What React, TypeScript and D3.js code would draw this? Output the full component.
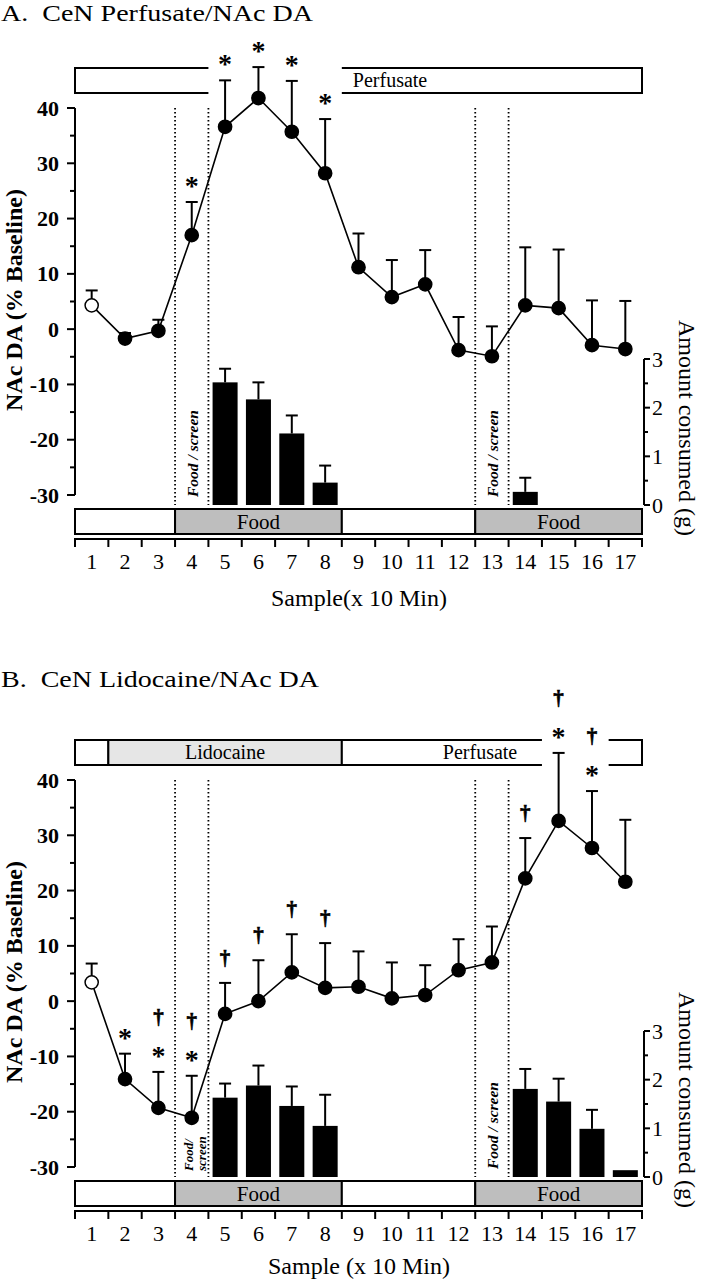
import React from "react";
import * as d3 from "d3";

// ---------------- DATA ----------------
const samples = [1, 2, 3, 4, 5, 6, 7, 8, 9, 10, 11, 12, 13, 14, 15, 16, 17];
const xTickLabels = ["1", "2", "3", "4", "5", "6", "7", "8", "9", "10", "11", "12", "13", "14", "15", "16", "17"];
const yTicks = [-30, -20, -10, 0, 10, 20, 30, 40];
const yrTicks = [0, 1, 2, 3];

// Panel A: CeN Perfusate / NAc DA (% baseline), mean and SEM
const daA = [4.3, -1.7, -0.3, 17.0, 36.6, 41.8, 35.7, 28.2, 11.2, 5.8, 8.1, -3.8, -4.9, 4.3, 3.8, -2.9, -3.6];
const semA = [2.7, 1.0, 2.0, 6.0, 8.4, 5.6, 9.2, 9.8, 6.1, 6.7, 6.2, 6.0, 5.4, 10.5, 10.6, 8.1, 8.7];
const sigA = ["", "", "", "*", "*", "*", "*", "*", "", "", "", "", "", "", "", "", ""];
const foodSamplesA = [5, 6, 7, 8, 14];
const foodA = [2.52, 2.17, 1.47, 0.46, 0.27];
const foodSemA = [0.28, 0.35, 0.37, 0.35, 0.29];

// Panel B: CeN Lidocaine / NAc DA
const daB = [3.4, -14.1, -19.3, -21.1, -2.3, 0.0, 5.2, 2.4, 2.6, 0.5, 1.1, 5.6, 7.0, 22.2, 32.6, 27.7, 21.6];
const semB = [3.4, 4.6, 6.5, 7.6, 5.6, 7.4, 6.9, 8.1, 6.4, 6.5, 5.4, 5.6, 6.5, 7.3, 12.3, 10.3, 11.2];
const sigB = ["", "*", "†*", "†*", "†", "†", "†", "†", "", "", "", "", "", "†", "†*", "†*", ""];
const foodSamplesB = [5, 6, 7, 8, 14, 15, 16, 17];
const foodB = [1.63, 1.88, 1.46, 1.05, 1.81, 1.55, 0.99, 0.14];
const foodSemB = [0.29, 0.41, 0.40, 0.64, 0.41, 0.47, 0.39, 0];

// Condition bars
const foodRow = [
  { from: 0.5, to: 3.5, label: "" },
  { from: 3.5, to: 8.5, label: "Food" },
  { from: 8.5, to: 12.5, label: "" },
  { from: 12.5, to: 17.5, label: "Food" },
];
const topSegsA = [
  { from: 0.5, to: 4.5, label: "", fill: "#ffffff", left: true, right: false },
  { from: 8.5, to: 17.5, label: "Perfusate", fill: "#ffffff", left: false, right: true },
];
const topSegsB = [
  { from: 0.5, to: 1.5, label: "", fill: "#ffffff", left: true, right: true },
  { from: 1.5, to: 8.5, label: "Lidocaine", fill: "#e6e6e6", left: true, right: true },
  { from: 8.5, to: 14.5, label: "Perfusate", fill: "#ffffff", left: true, right: false },
  { from: 16.5, to: 17.5, label: "", fill: "#ffffff", left: false, right: true },
];
const dividers = [3.5, 4.5, 12.5, 13.5];

// ---------------- DRAWING ----------------
const W = 702;
const H = 1280;
const X0 = 75;
const X1 = 642;
const FONT = "'Liberation Serif', 'Times New Roman', Times, serif";

type Seg = { from: number; to: number; label: string; fill: string; left: boolean; right: boolean };

function Panel(props: {
  dy: number;
  title: string;
  titleY: number;
  titleLen: number;
  da: number[];
  sem: number[];
  sig: string[];
  foodSamples: number[];
  food: number[];
  foodSem: number[];
  topSegs: Seg[];
  topLabelX: (seg: Seg, xs: (v: number) => number) => { x: number; anchor: string };
  splitFoodScreen4: boolean;
  xLabel: string;
  xLabelY: number;
}) {
  const { dy, da, sem, sig } = props;
  const xs = d3.scaleLinear().domain([0.5, 17.5]).range([X0, X1]);
  const xb = d3
    .scaleBand<number>()
    .domain(samples)
    .range([X0, X1])
    .paddingInner(0.25)
    .paddingOuter(0.125);
  const y = d3.scaleLinear().domain([-30, 40]).range([495 + dy, 108 + dy]);
  const yr = d3.scaleLinear().domain([0, 3]).range([505 + dy, 359 + dy]);
  const line = d3
    .line<number>()
    .x((_, i) => xs(samples[i]))
    .y((d) => y(d));

  const topY0 = 68 + dy;
  const topY1 = 93 + dy;
  const fY0 = 509 + dy;
  const fY1 = 534 + dy;
  const axY = 539 + dy;
  const cap = 6;

  const minorY = y.ticks(14);
  const minorYr = d3.range(0, 3.01, 0.5);

  const fsLabel = (s: number, split: boolean) => {
    const xc = xs(s);
    const yb = 497 + dy;
    if (split) {
      return (
        <g key={"fs" + s} fontFamily={FONT} fontStyle="italic" fontWeight="bold" fontSize={13}>
          <text transform={`translate(${xc + 1},${yb + 2}) rotate(-90)`}>Food/</text>
          <text transform={`translate(${xc + 14},${yb + 2}) rotate(-90)`}>screen</text>
        </g>
      );
    }
    return (
      <text
        key={"fs" + s}
        transform={`translate(${xc + 6},${yb}) rotate(-90)`}
        fontFamily={FONT}
        fontStyle="italic"
        fontWeight="bold"
        fontSize={15.5}
        style={{ whiteSpace: "pre" }}
      >
        Food / screen
      </text>
    );
  };

  return (
    <g>
      {/* title */}
      <text
        x={1}
        y={props.titleY}
        fontFamily={FONT}
        fontSize={24}
        textLength={props.titleLen}
        lengthAdjust="spacingAndGlyphs"
        style={{ whiteSpace: "pre" }}
      >
        {props.title}
      </text>

      {/* top condition bar */}
      {props.topSegs.map((s, i) => {
        const a = xs(s.from);
        const b = xs(s.to);
        const lp = props.topLabelX(s, xs);
        return (
          <g key={"top" + i}>
            <rect x={a} y={topY0} width={b - a} height={topY1 - topY0} fill={s.fill} />
            <line x1={a} x2={b} y1={topY0} y2={topY0} stroke="#000" strokeWidth={2} />
            <line x1={a} x2={b} y1={topY1} y2={topY1} stroke="#000" strokeWidth={2} />
            {s.left && <line x1={a} x2={a} y1={topY0 - 1} y2={topY1 + 1} stroke="#000" strokeWidth={2} />}
            {s.right && <line x1={b} x2={b} y1={topY0 - 1} y2={topY1 + 1} stroke="#000" strokeWidth={2} />}
            {s.label && (
              <text x={lp.x} y={topY1 - 6} textAnchor={lp.anchor} fontFamily={FONT} fontSize={20}>
                {s.label}
              </text>
            )}
          </g>
        );
      })}

      {/* dotted dividers */}
      {dividers.map((d) => (
        <line
          key={"dv" + d}
          x1={xs(d)}
          x2={xs(d)}
          y1={108 + dy}
          y2={505 + dy}
          stroke="#000"
          strokeWidth={1.8}
          strokeDasharray="1.6,2.4"
        />
      ))}

      {/* food / screen labels */}
      {fsLabel(4, props.splitFoodScreen4)}
      {fsLabel(13, false)}

      {/* food bars */}
      {props.foodSamples.map((s, i) => {
        const bx = xb(s)!;
        const bw = xb.bandwidth();
        const top = yr(props.food[i]);
        const cx = bx + bw / 2;
        const et = yr(props.food[i] + props.foodSem[i]);
        return (
          <g key={"fb" + s}>
            {props.foodSem[i] > 0 && (
              <g stroke="#000" strokeWidth={2}>
                <line x1={cx} x2={cx} y1={top} y2={et} />
                <line x1={cx - cap} x2={cx + cap} y1={et} y2={et} />
              </g>
            )}
            <rect x={bx} y={top} width={bw} height={yr(0) - top} fill="#000" />
          </g>
        );
      })}

      {/* left axis */}
      <line x1={X0} x2={X0} y1={y(40)} y2={y(-30)} stroke="#000" strokeWidth={2} />
      {minorY.map((t) => (
        <line
          key={"my" + t}
          x1={X0}
          x2={X0 - (t % 10 === 0 ? 8 : 5)}
          y1={y(t)}
          y2={y(t)}
          stroke="#000"
          strokeWidth={2}
        />
      ))}
      {yTicks.map((t) => (
        <text
          key={"yl" + t}
          x={59}
          y={y(t) + 7.5}
          textAnchor="end"
          fontFamily={FONT}
          fontWeight="bold"
          fontSize={22}
        >
          {t}
        </text>
      ))}
      <text
        transform={`translate(22,${300 + dy}) rotate(-90)`}
        textAnchor="middle"
        fontFamily={FONT}
        fontWeight="bold"
        fontSize={24}
      >
        NAc DA (% Baseline)
      </text>

      {/* right axis */}
      <line x1={644} x2={644} y1={yr(3)} y2={yr(0)} stroke="#000" strokeWidth={2} />
      {minorYr.map((t) => (
        <line
          key={"myr" + t}
          x1={644}
          x2={644 + (Math.abs(t - Math.round(t)) < 1e-6 ? 6 : 4)}
          y1={yr(t)}
          y2={yr(t)}
          stroke="#000"
          strokeWidth={2}
        />
      ))}
      {yrTicks.map((t) => (
        <text key={"yrl" + t} x={652} y={yr(t) + 7.5} fontFamily={FONT} fontSize={22}>
          {t}
        </text>
      ))}
      <text
        transform={`translate(679,${428 + dy}) rotate(90)`}
        textAnchor="middle"
        fontFamily={FONT}
        fontSize={24}
      >
        Amount consumed (g)
      </text>

      {/* food row */}
      {foodRow.map((s, i) => (
        <rect
          key={"fr" + i}
          x={xs(s.from)}
          y={fY0}
          width={xs(s.to) - xs(s.from)}
          height={fY1 - fY0}
          fill={s.label ? "#bebebe" : "#ffffff"}
          stroke="#000"
          strokeWidth={2}
        />
      ))}
      {foodRow
        .filter((s) => s.label)
        .map((s, i) => (
          <text
            key={"frl" + i}
            x={(xs(s.from) + xs(s.to)) / 2}
            y={fY1 - 5}
            textAnchor="middle"
            fontFamily={FONT}
            fontSize={21}
          >
            {s.label}
          </text>
        ))}

      {/* x axis */}
      <line x1={X0 - 1} x2={X1 + 1} y1={axY} y2={axY} stroke="#000" strokeWidth={2} />
      {samples.concat([0]).map((s, i) => {
        const v = i === 0 ? 0.5 : samples[i - 1] + 0.5;
        return <line key={"xt" + i} x1={xs(v)} x2={xs(v)} y1={axY} y2={axY + 8} stroke="#000" strokeWidth={2} />;
      })}
      {samples.map((s, i) => (
        <text key={"xl" + s} x={xs(s)} y={axY + 30} textAnchor="middle" fontFamily={FONT} fontSize={22}>
          {xTickLabels[i]}
        </text>
      ))}
      <text x={359} y={props.xLabelY} textAnchor="middle" fontFamily={FONT} fontSize={24}>
        {props.xLabel}
      </text>

      {/* error bars on DA */}
      {da.map((d, i) => {
        const cx = xs(samples[i]);
        const et = y(d + sem[i]);
        return (
          <g key={"eb" + i} stroke="#000" strokeWidth={2}>
            <line x1={cx} x2={cx} y1={y(d)} y2={et} />
            <line x1={cx - cap} x2={cx + cap} y1={et} y2={et} />
          </g>
        );
      })}

      {/* DA line */}
      <path d={line(da) || ""} fill="none" stroke="#000" strokeWidth={1.6} />
      {da.map((d, i) => (
        <circle
          key={"pt" + i}
          cx={xs(samples[i])}
          cy={y(d)}
          r={6.6}
          fill={i === 0 ? "#fff" : "#000"}
          stroke="#000"
          strokeWidth={1.5}
        />
      ))}

      {/* significance marks */}
      {sig.map((s, i) => {
        if (!s) return null;
        const cx = xs(samples[i]);
        const et = y(da[i] + sem[i]);
        const hasStar = s.includes("*");
        const hasDag = s.includes("†");
        const starC = et - 20;
        const dagC = hasStar ? et - 54 : et - 24;
        return (
          <g key={"sg" + i} fontFamily={FONT} fontWeight="bold" textAnchor="middle">
            {hasStar && (
              <text x={cx} y={starC + 13} fontSize={28}>
                *
              </text>
            )}
            {hasDag && (
              <text x={cx} y={dagC + 6} fontSize={21} stroke="#000" strokeWidth={0.6}>
                †
              </text>
            )}
          </g>
        );
      })}
    </g>
  );
}

export default function App() {
  return (
    <svg
      width={W}
      height={H}
      viewBox={`0 0 ${W} ${H}`}
      style={{ position: "absolute", left: 0, top: 0, background: "#fff" }}
    >
      <rect x={0} y={0} width={W} height={H} fill="#fff" />
      <Panel
        dy={0}
        title="A.  CeN Perfusate/NAc DA"
        titleY={21}
        titleLen={312}
        da={daA}
        sem={semA}
        sig={sigA}
        foodSamples={foodSamplesA}
        food={foodA}
        foodSem={foodSemA}
        topSegs={topSegsA}
        topLabelX={(s, xs) => ({ x: xs(s.from) + 11, anchor: "start" })}
        splitFoodScreen4={false}
        xLabel="Sample(x 10 Min)"
        xLabelY={606}
      />
      <Panel
        dy={672}
        title="B.  CeN Lidocaine/NAc DA"
        titleY={687}
        titleLen={318}
        da={daB}
        sem={semB}
        sig={sigB}
        foodSamples={foodSamplesB}
        food={foodB}
        foodSem={foodSemB}
        topSegs={topSegsB}
        topLabelX={(s, xs) =>
          s.label === "Perfusate"
            ? { x: xs(s.from) + 101, anchor: "start" }
            : { x: (xs(s.from) + xs(s.to)) / 2, anchor: "middle" }
        }
        splitFoodScreen4={true}
        xLabel="Sample (x 10 Min)"
        xLabelY={1274}
      />
    </svg>
  );
}
